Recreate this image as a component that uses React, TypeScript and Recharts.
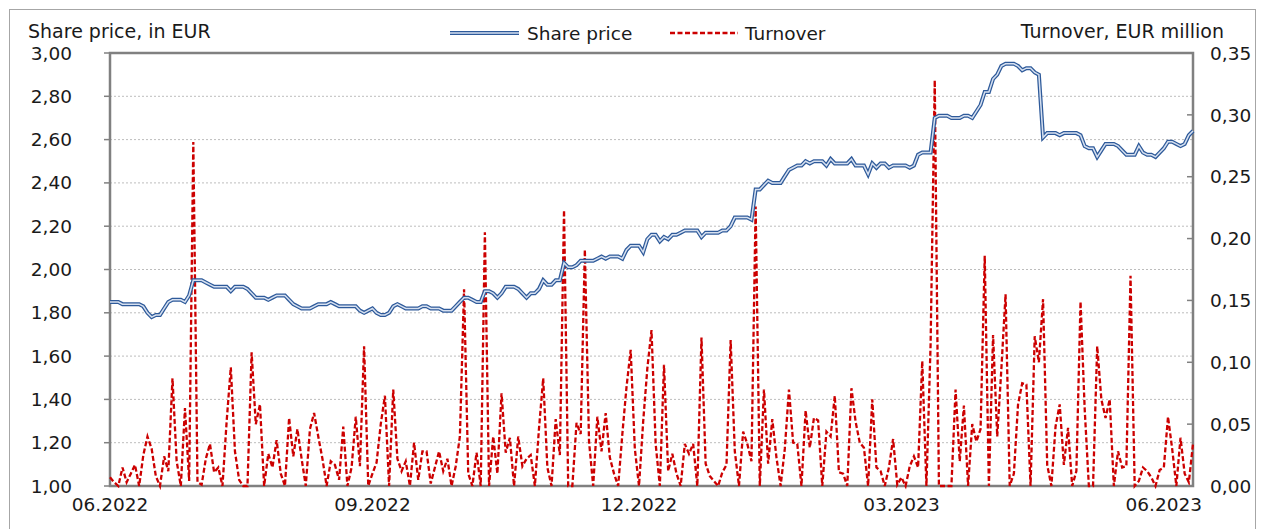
import {
  ComposedChart,
  Line,
  XAxis,
  YAxis,
  CartesianGrid,
  ReferenceArea,
} from "recharts";

// daily share price, EUR (06.2022 - 06.2023)
const sharePrice = [
  1.85, 1.85, 1.85, 1.84, 1.84, 1.84, 1.84, 1.84, 1.83, 1.8,
  1.78, 1.79, 1.79, 1.82, 1.85, 1.86, 1.86, 1.86, 1.85, 1.88,
  1.95, 1.95, 1.95, 1.94, 1.93, 1.92, 1.92, 1.92, 1.92, 1.9,
  1.92, 1.92, 1.92, 1.91, 1.89, 1.87, 1.87, 1.87, 1.86, 1.87,
  1.88, 1.88, 1.88, 1.86, 1.84, 1.83, 1.82, 1.82, 1.82, 1.83,
  1.84, 1.84, 1.84, 1.85, 1.84, 1.83, 1.83, 1.83, 1.83, 1.83,
  1.81, 1.8, 1.81, 1.82, 1.8, 1.79, 1.79, 1.8, 1.83, 1.84,
  1.83, 1.82, 1.82, 1.82, 1.82, 1.83, 1.83, 1.82, 1.82, 1.82,
  1.81, 1.81, 1.81, 1.83, 1.85, 1.87, 1.87, 1.86, 1.85, 1.85,
  1.9, 1.9, 1.89, 1.87, 1.89, 1.92, 1.92, 1.92, 1.91, 1.89,
  1.87, 1.89, 1.89, 1.91, 1.95, 1.93, 1.93, 1.95, 1.95, 2.03,
  2.01, 2.01, 2.02, 2.04, 2.04, 2.04, 2.04, 2.05, 2.06, 2.05,
  2.06, 2.06, 2.06, 2.05, 2.09, 2.11, 2.11, 2.11, 2.08, 2.14,
  2.16, 2.16, 2.13, 2.15, 2.14, 2.16, 2.16, 2.17, 2.18, 2.18,
  2.18, 2.18, 2.15, 2.17, 2.17, 2.17, 2.17, 2.18, 2.18, 2.2,
  2.24, 2.24, 2.24, 2.24, 2.23, 2.37, 2.37, 2.39, 2.41, 2.4,
  2.4, 2.4, 2.43, 2.46, 2.47, 2.48, 2.48, 2.5, 2.49, 2.5,
  2.5, 2.5, 2.48, 2.51, 2.49, 2.49, 2.49, 2.49, 2.51, 2.48,
  2.48, 2.48, 2.44, 2.49, 2.47, 2.49, 2.49, 2.47, 2.48, 2.48,
  2.48, 2.48, 2.47, 2.48, 2.53, 2.54, 2.54, 2.54, 2.7, 2.71,
  2.71, 2.71, 2.7, 2.7, 2.7, 2.71, 2.71, 2.7, 2.73, 2.76,
  2.82, 2.82, 2.88, 2.9, 2.94, 2.95, 2.95, 2.95, 2.94, 2.92,
  2.93, 2.93, 2.91, 2.9, 2.61, 2.63, 2.63, 2.63, 2.62, 2.63,
  2.63, 2.63, 2.63, 2.62, 2.57, 2.56, 2.56, 2.52, 2.55, 2.58,
  2.58, 2.58, 2.57, 2.55, 2.53, 2.53, 2.53, 2.57, 2.54, 2.53,
  2.53, 2.52, 2.54, 2.56, 2.59, 2.59, 2.58, 2.57, 2.58, 2.62,
  2.64,
];

// daily turnover, EUR million
const turnover = [
  0.007, 0.003, 0.0, 0.015, 0.003, 0.01, 0.017, 0.0, 0.025, 0.04,
  0.03, 0.008, 0.0, 0.024, 0.012, 0.087, 0.02, 0.0, 0.063, 0.004,
  0.278, 0.003, 0.001, 0.022, 0.034, 0.011, 0.015, 0.0, 0.052, 0.096,
  0.028, 0.005, 0.0, 0.0, 0.108, 0.05, 0.066, 0.0, 0.026, 0.015,
  0.037, 0.01, 0.0, 0.055, 0.024, 0.046, 0.022, 0.0, 0.046, 0.059,
  0.04, 0.022, 0.0, 0.02, 0.017, 0.005, 0.048, 0.0, 0.015, 0.056,
  0.016, 0.113, 0.0, 0.01, 0.019, 0.05, 0.073, 0.0, 0.078, 0.022,
  0.012, 0.02, 0.0, 0.035, 0.005, 0.028, 0.028, 0.002, 0.015, 0.028,
  0.012, 0.022, 0.0, 0.016, 0.04, 0.159, 0.01, 0.0, 0.027, 0.0,
  0.205, 0.0, 0.04, 0.01, 0.075, 0.027, 0.039, 0.0, 0.04, 0.016,
  0.022, 0.025, 0.0, 0.047, 0.087, 0.015, 0.0, 0.054, 0.025, 0.223,
  0.0, 0.0, 0.051, 0.042, 0.191, 0.036, 0.0, 0.056, 0.028, 0.059,
  0.023, 0.01, 0.0, 0.042, 0.08, 0.11, 0.03, 0.0, 0.052, 0.095,
  0.126, 0.034, 0.0, 0.098, 0.012, 0.026, 0.01, 0.0, 0.034, 0.026,
  0.034, 0.0, 0.12, 0.018, 0.008, 0.004, 0.0, 0.011, 0.017, 0.118,
  0.028, 0.0, 0.044, 0.034, 0.02, 0.226, 0.0, 0.078, 0.018, 0.054,
  0.023, 0.0, 0.03, 0.078, 0.035, 0.034, 0.0, 0.061, 0.031, 0.055,
  0.053, 0.0, 0.044, 0.04, 0.073, 0.011, 0.01, 0.0, 0.079, 0.052,
  0.035, 0.031, 0.0, 0.07, 0.015, 0.012, 0.0, 0.015, 0.038, 0.001,
  0.007, 0.0, 0.016, 0.024, 0.015, 0.101, 0.0, 0.114, 0.328, 0.0,
  0.0, 0.0, 0.0, 0.078, 0.02, 0.065, 0.0, 0.05, 0.036, 0.046,
  0.186, 0.0, 0.122, 0.04, 0.095, 0.155, 0.0, 0.01, 0.066, 0.083,
  0.082, 0.0, 0.121, 0.1, 0.151, 0.017, 0.0, 0.048, 0.066, 0.017,
  0.047, 0.0, 0.012, 0.149, 0.062, 0.0, 0.0, 0.113, 0.07, 0.055,
  0.07, 0.0, 0.028, 0.015, 0.016, 0.17, 0.0, 0.004, 0.015, 0.012,
  0.007, 0.0, 0.013, 0.015, 0.056, 0.03, 0.0, 0.039, 0.01, 0.003,
  0.034,
];

// trading-day index of monthly grid lines and of the axis labels
const gridDays = [0, 22, 44, 66, 88, 110, 132, 154, 176, 198, 220, 242];
const labelDays = [0, 63, 127, 190, 253];
const monthLabels = ["06.2022", "09.2022", "12.2022", "03.2023", "06.2023"];

const priceTicks = [1, 1.2, 1.4, 1.6, 1.8, 2, 2.2, 2.4, 2.6, 2.8, 3];
const turnoverTicks = [0, 0.05, 0.1, 0.15, 0.2, 0.25, 0.3, 0.35];

const data = sharePrice.map((p, i) => ({
  i,
  price: p,
  turnover: turnover[i],
}));

const FONT = "'DejaVu Sans', Verdana, sans-serif";
const TEXT = "#1a1a1a";
const AXIS = "#808080";
const TICK_SIZE = 18.5;

const fmt = (v: number) => v.toFixed(2).replace(".", ",");

function RightTick(props: any) {
  const { x, y, payload } = props;
  return (
    <g>
      <line x1={x - 23} x2={x - 17} y1={y} y2={y} stroke={AXIS} strokeWidth={1.5} />
      <text
        x={x}
        y={y}
        dy="0.36em"
        textAnchor="start"
        fontSize={TICK_SIZE}
        fontFamily={FONT}
        fill={TEXT}
      >
        {fmt(payload.value)}
      </text>
    </g>
  );
}

export default function App() {
  return (
    <div style={{ position: "absolute", left: 0, top: 0, width: 1263, height: 529 }}>
      <div
        style={{
          position: "absolute",
          left: 9,
          top: 9,
          width: 1247,
          height: 520,
          boxSizing: "border-box",
          border: "1px solid #a6a6a6",
          borderBottom: "none",
        }}
      />
      <div style={{ position: "absolute", left: 0, top: 0 }}>
        <ComposedChart
          width={1263}
          height={529}
          data={data}
          margin={{ top: 53, right: 0, bottom: 0, left: 0 }}
        >
          <CartesianGrid
            yAxisId="p"
            stroke="#bdbdbd"
            strokeDasharray="2 2"
          />
          <XAxis
            dataKey="i"
            type="number"
            domain={[0, 260]}
            ticks={gridDays}
            interval={0}
            tick={false}
            tickSize={6}
            tickLine={{ stroke: AXIS, strokeWidth: 1.5 }}
            axisLine={false}
            height={8}
          />
          <XAxis
            xAxisId="lab"
            dataKey="i"
            type="number"
            domain={[0, 260]}
            ticks={labelDays}
            interval={0}
            tickFormatter={(v: number) => monthLabels[labelDays.indexOf(v)]}
            tickLine={false}
            axisLine={false}
            tickSize={0}
            tickMargin={4}
            height={35}
            tick={{ fontSize: TICK_SIZE, fill: TEXT, fontFamily: FONT }}
          />
          <YAxis
            yAxisId="p"
            domain={[1, 3]}
            ticks={priceTicks}
            interval={0}
            width={110}
            tickFormatter={fmt}
            tickSize={6}
            tickMargin={32}
            tickLine={{ stroke: AXIS, strokeWidth: 1.5 }}
            axisLine={false}
            tick={{ fontSize: TICK_SIZE, fill: TEXT, fontFamily: FONT }}
          />
          <YAxis
            yAxisId="t"
            orientation="right"
            domain={[0, 0.35]}
            ticks={turnoverTicks}
            interval={0}
            width={70}
            tickSize={0}
            tickMargin={17}
            tickLine={false}
            axisLine={false}
            tick={<RightTick />}
          />
          <ReferenceArea
            yAxisId="p"
            x1={0}
            x2={260}
            y1={1}
            y2={3}
            fill="none"
            stroke={AXIS}
            strokeWidth={2.5}
            ifOverflow="visible"
          />
          <Line
            yAxisId="t"
            dataKey="turnover"
            type="linear"
            stroke="#cc0000"
            strokeWidth={2.3}
            strokeDasharray="5 2.5"
            dot={false}
            activeDot={false}
            isAnimationActive={false}
          />
          <Line
            yAxisId="p"
            dataKey="price"
            type="linear"
            stroke="#2e5a9a"
            strokeWidth={4}
            dot={false}
            activeDot={false}
            isAnimationActive={false}
          />
          <Line
            yAxisId="p"
            dataKey="price"
            type="linear"
            stroke="#d6e0f0"
            strokeWidth={1.5}
            dot={false}
            activeDot={false}
            isAnimationActive={false}
          />
        </ComposedChart>
      </div>
      <svg
        width={1263}
        height={529}
        style={{ position: "absolute", left: 0, top: 0, pointerEvents: "none" }}
        fontFamily={FONT}
        fontSize={19}
        fill={TEXT}
      >
        <text x={28} y={38}>Share price, in EUR</text>
        <text x={1224} y={38} textAnchor="end">Turnover, EUR million</text>
        <line x1={450} x2={519} y1={33} y2={33} stroke="#2e5a9a" strokeWidth={4} />
        <line x1={450} x2={519} y1={33} y2={33} stroke="#d6e0f0" strokeWidth={1.5} />
        <text x={527} y={39.5} fontSize={18.5}>Share price</text>
        <line
          x1={670}
          x2={738}
          y1={33}
          y2={33}
          stroke="#cc0000"
          strokeWidth={2.3}
          strokeDasharray="5 2.5"
        />
        <text x={745} y={39.5} fontSize={18.5}>Turnover</text>
      </svg>
    </div>
  );
}
